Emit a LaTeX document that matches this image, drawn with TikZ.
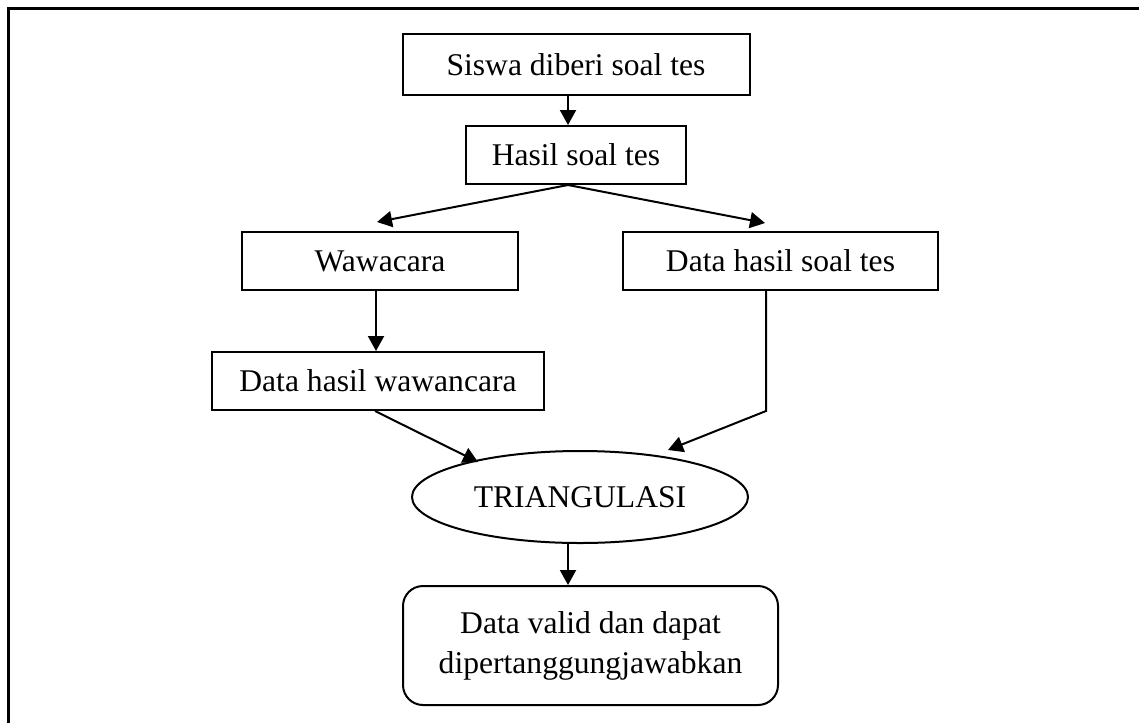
\documentclass[tikz,border=0pt]{standalone}
\usepackage{fontspec}
\setmainfont{Liberation Serif}
\usetikzlibrary{arrows.meta,shapes.geometric}
\begin{document}
\begin{tikzpicture}[x=0.5pt,y=-0.5pt,
  every node/.style={font=\fontsize{15.8}{20}\selectfont, inner sep=0pt, line width=1pt},
  box/.style={draw, rectangle},
  arr/.style={line width=1pt, -{Triangle[length=7.5pt,width=8pt]}},
  ln/.style={line width=1pt}]
\useasboundingbox (0,0) rectangle (1139,723);
\draw[line width=1.5pt] (8,723) -- (8,8.5) -- (1139,8.5);

\node[box, minimum width=173.5pt, minimum height=30.5pt] (b1) at (576,64.5) {Siswa diberi soal tes};
\node[box, minimum width=110pt, minimum height=29pt] (b2) at (576,155) {Hasil soal tes};
\node[box, minimum width=138pt, minimum height=29pt] (w) at (380,261) {Wawacara};
\node[box, minimum width=157.5pt, minimum height=29pt] (ds) at (780.5,261) {Data hasil soal tes};
\node[box, minimum width=166pt, minimum height=29pt] (dw) at (378,381) {Data hasil wawancara};
\node[draw, ellipse, minimum width=168pt, minimum height=46pt] (e) at (580,497) {TRIANGULASI};
\node[draw, rectangle, rounded corners=10pt, minimum width=187.5pt, minimum height=59.5pt, align=center] (r) at (590.5,645.5) {Data valid dan dapat\\dipertanggungjawabkan};

\coordinate (tw) at (377,222);
\coordinate (ts) at (765,223);
\coordinate (t1) at (478,462);
\coordinate (t2) at (668,450);

\draw[arr] ([xshift=-4pt]b1.south) -- ([xshift=-4pt]b1.south |- b2.north);
\draw[arr] ([xshift=-4pt]b2.south) -- (tw);
\draw[arr] ([xshift=-4pt]b2.south) -- (ts);
\draw[arr] ([xshift=-2pt]w.south) -- ([xshift=-2pt]w.south |- dw.north);
\draw[arr] ([xshift=-1.5pt]dw.south) -- (t1);
\draw[arr] ([xshift=-7.25pt]ds.south) -- ([xshift=-7.25pt]ds.south |- dw.south) -- (t2);
\draw[arr] ([xshift=-6pt]e.south) -- ([xshift=-6pt]e.south |- r.north);
\end{tikzpicture}
\end{document}
